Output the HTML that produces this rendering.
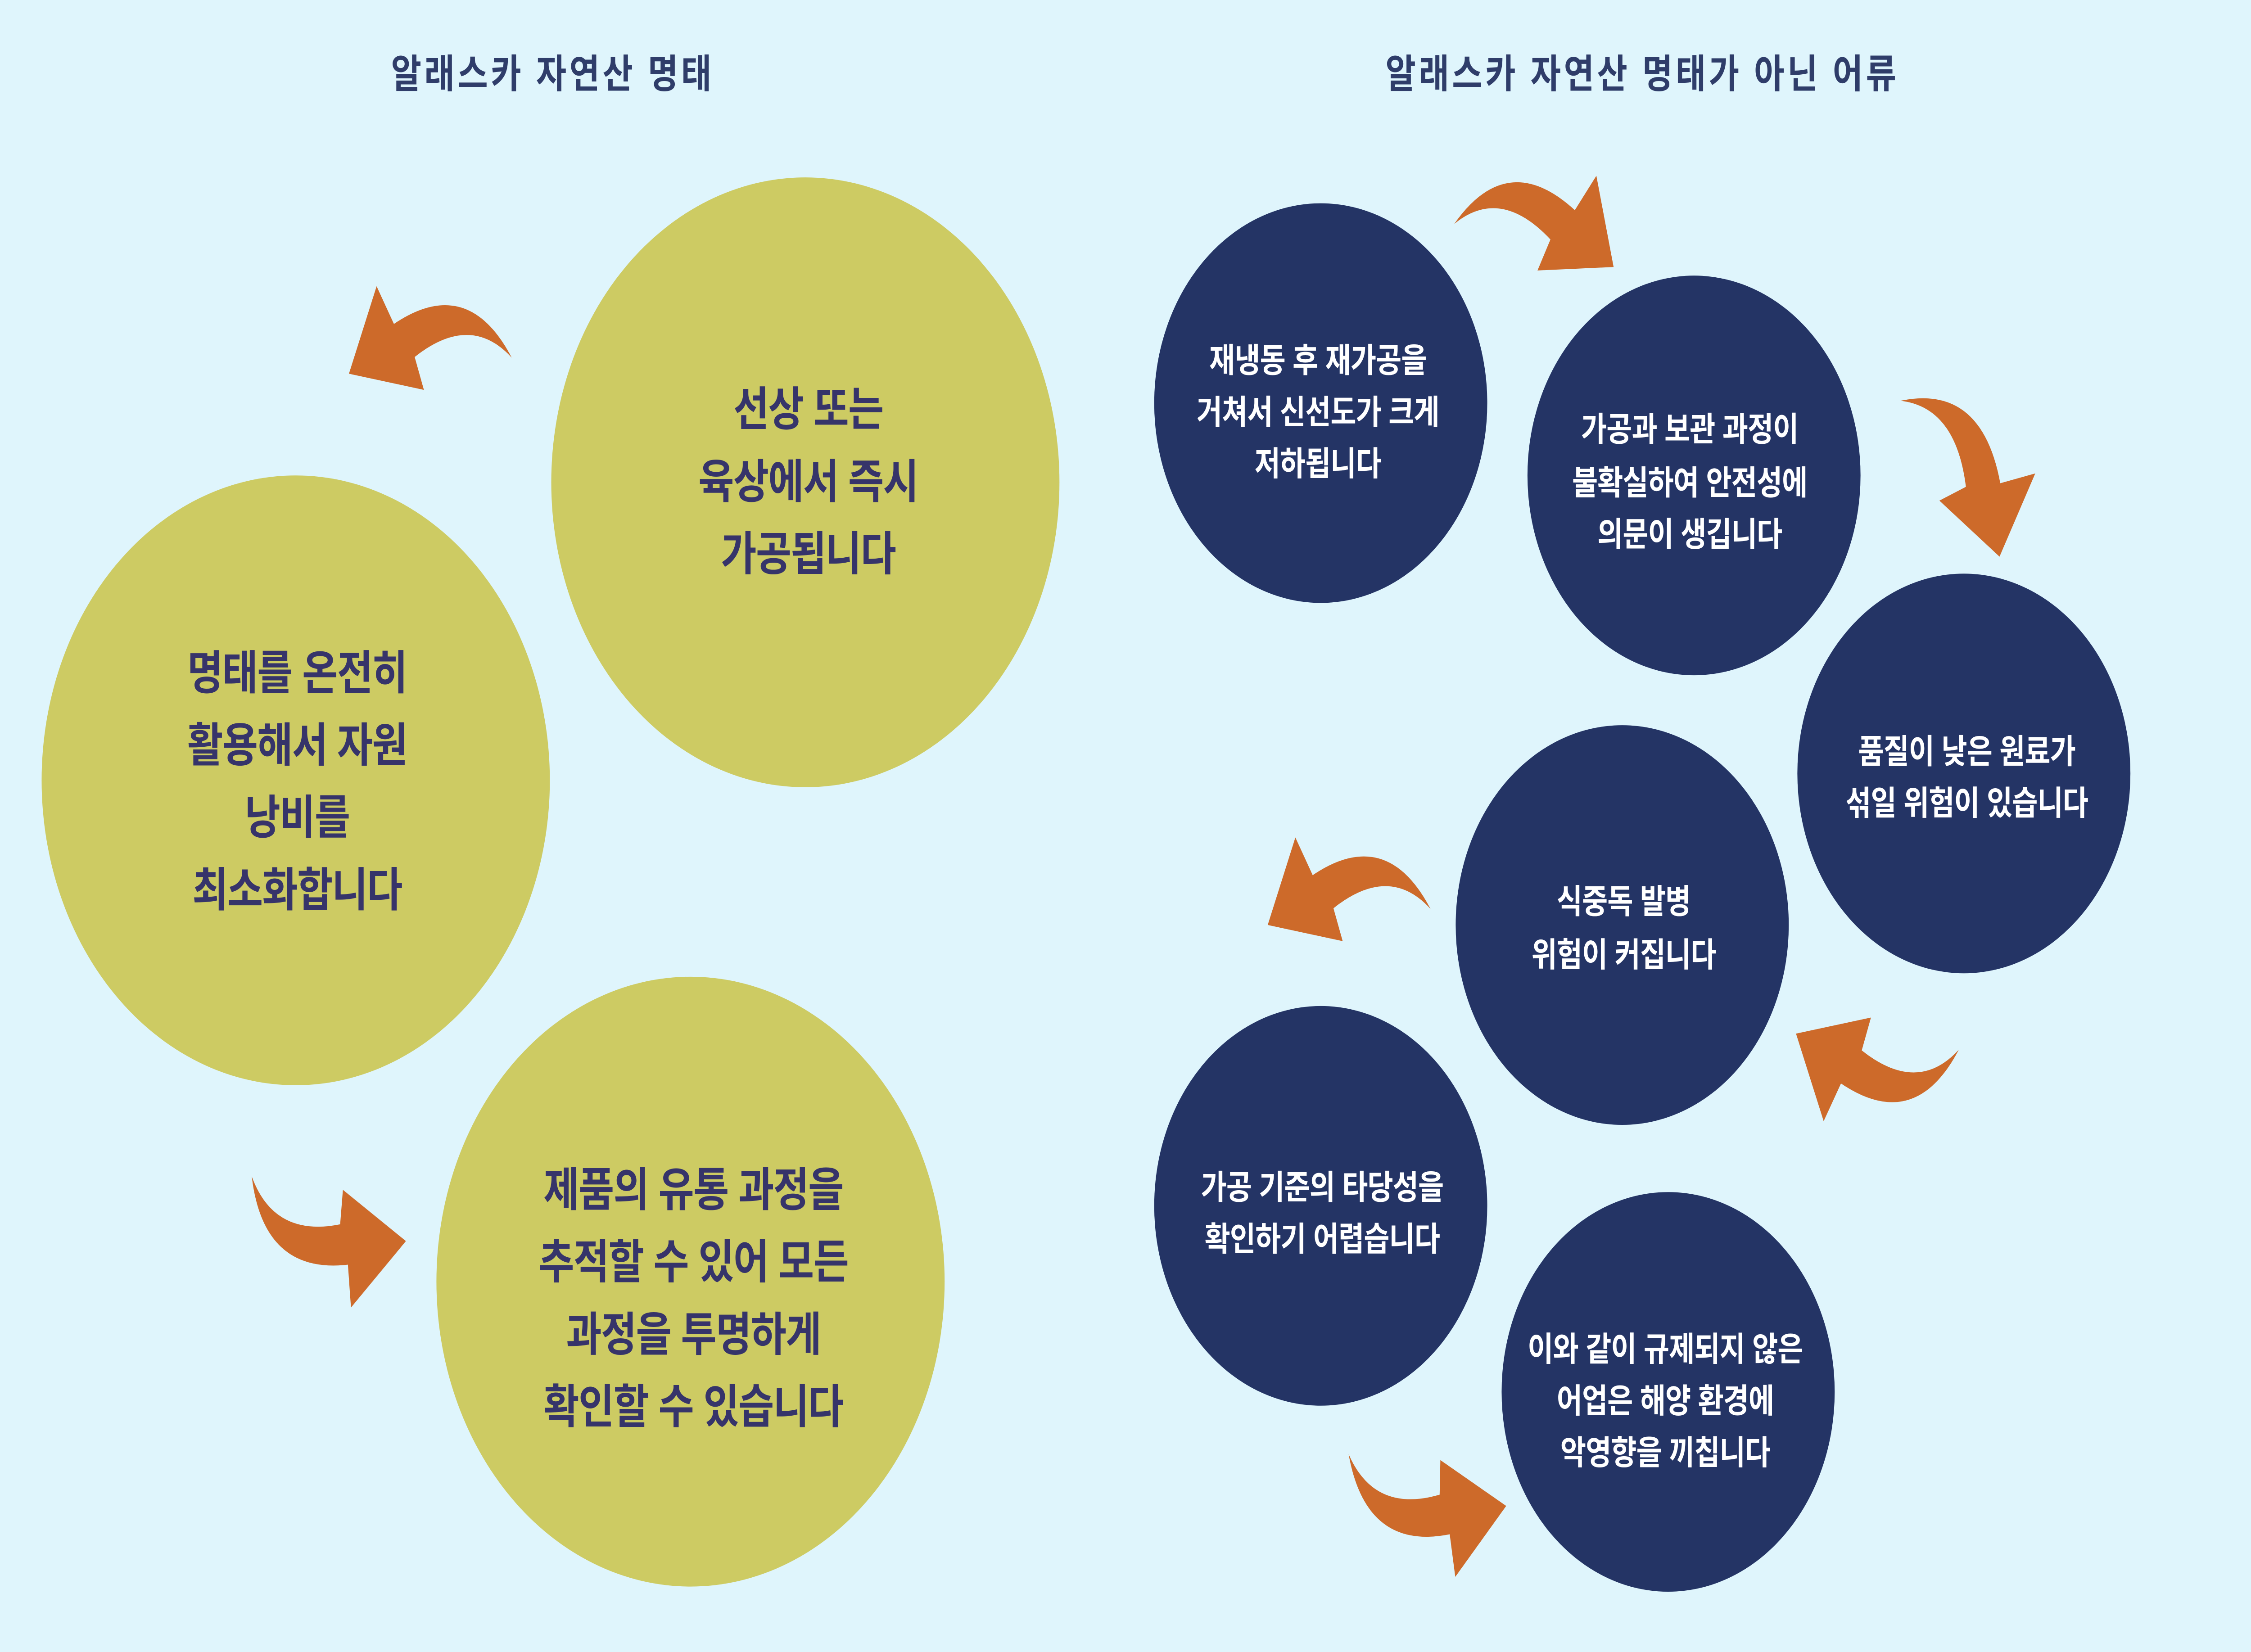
<!DOCTYPE html>
<html><head><meta charset="utf-8">
<style>
html,body{margin:0;padding:0;background:#dff5fc;width:100%;height:100%;overflow:hidden;}
svg{display:block;width:100vw;height:100vh;position:absolute;left:0;top:0}
text{font-family:"Liberation Sans","Noto Sans CJK KR",sans-serif;font-weight:bold;text-anchor:middle}
.t{fill:#2f3d6a;font-size:23px;letter-spacing:2px}
.y{fill:#36346a;font-size:27px;letter-spacing:-0.5px}
.w{fill:#ffffff;font-size:19.5px;letter-spacing:-0.3px}
</style></head>
<body>
<svg viewBox="0 0 1568 959" preserveAspectRatio="none" xmlns="http://www.w3.org/2000/svg">
<defs>
<path id="ar" d="M-55,0 Q-18,-44 29,-8 L44,-28 L56,25 L3,27 L12,9 Q-23,-22 -55,0 Z" fill="#cd6a2a"/>
</defs>
<rect width="1568" height="959" fill="#dff5fc"/>
<text class="t" x="385" y="51">알래스카 자연산 명태</text>
<text class="t" x="1144" y="51">알래스카 자연산 명태가 아닌 어류</text>

<circle cx="561" cy="280" r="177" fill="#cdcb63"/>
<circle cx="206" cy="453" r="177" fill="#cdcb63"/>
<circle cx="481" cy="744" r="177" fill="#cdcb63"/>
<text class="y" x="563" y="247">선상 또는</text>
<text class="y" x="563" y="289">육상에서 즉시</text>
<text class="y" x="563" y="331">가공됩니다</text>
<text class="y" x="207" y="400">명태를 온전히</text>
<text class="y" x="207" y="442">활용해서 자원</text>
<text class="y" x="207" y="484">낭비를</text>
<text class="y" x="207" y="526">최소화합니다</text>
<text class="y" x="483" y="700">제품의 유통 과정을</text>
<text class="y" x="483" y="742">추적할 수 있어 모든</text>
<text class="y" x="483" y="784">과정을 투명하게</text>
<text class="y" x="483" y="826">확인할 수 있습니다</text>

<circle cx="920" cy="234" r="116" fill="#243465"/>
<circle cx="1180" cy="276" r="116" fill="#243465"/>
<circle cx="1368" cy="449" r="116" fill="#243465"/>
<circle cx="1130" cy="537" r="116" fill="#243465"/>
<circle cx="920" cy="700" r="116" fill="#243465"/>
<circle cx="1162" cy="808" r="116" fill="#243465"/>
<text class="w" x="918" y="216">재냉동 후 재가공을</text>
<text class="w" x="918" y="246">거쳐서 신선도가 크게</text>
<text class="w" x="918" y="276">저하됩니다</text>
<text class="w" x="1177" y="256">가공과 보관 과정이</text>
<text class="w" x="1177" y="287">불확실하여 안전성에</text>
<text class="w" x="1177" y="317">의문이 생깁니다</text>
<text class="w" x="1370" y="443">품질이 낮은 원료가</text>
<text class="w" x="1370" y="473">섞일 위험이 있습니다</text>
<text class="w" x="1131" y="530">식중독 발병</text>
<text class="w" x="1131" y="561">위험이 커집니다</text>
<text class="w" x="921" y="696">가공 기준의 타당성을</text>
<text class="w" x="921" y="726">확인하기 어렵습니다</text>
<text class="w" x="1160" y="790">이와 같이 규제되지 않은</text>
<text class="w" x="1160" y="820">어업은 해양 환경에</text>
<text class="w" x="1160" y="850">악영향을 끼칩니다</text>

<use href="#ar" transform="translate(1068,130)"/>
<use href="#ar" transform="translate(1366,268) rotate(40)"/>
<use href="#ar" transform="translate(1310,617) rotate(172)"/>
<use href="#ar" transform="translate(942,520) scale(-1,1) rotate(-8)"/>
<use href="#ar" transform="translate(988,870) rotate(28) scale(1,-1)"/>
<use href="#ar" transform="translate(302,200) scale(-1,1) rotate(-8)"/>
<use href="#ar" transform="translate(222,712) rotate(32) scale(1,-1)"/>
</svg>
</body></html>
